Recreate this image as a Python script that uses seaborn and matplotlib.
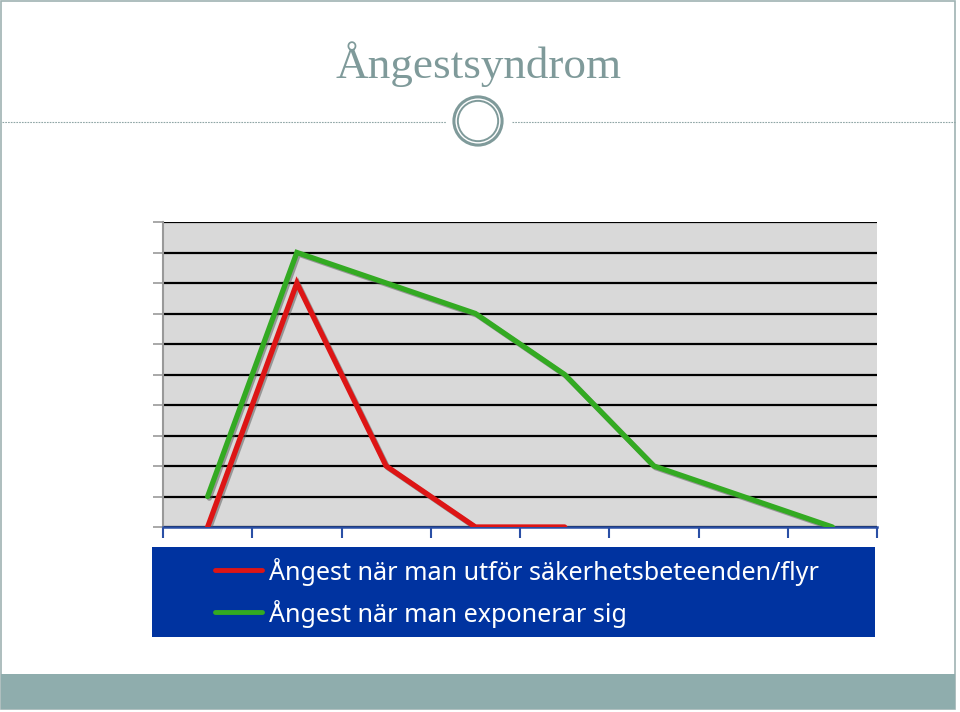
import matplotlib
matplotlib.use("Agg")
import matplotlib.pyplot as plt
import matplotlib.patheffects as pe
from matplotlib.patches import Rectangle, Circle
from matplotlib.lines import Line2D
import seaborn as sns
import pandas as pd

# ---- data ----
steps = [0, 1, 2, 3, 4, 5, 6, 7]
flight_steps = [0, 1, 2, 3, 4]
flight_values = [0, 8, 2, 0, 0]
exposure_values = [1, 9, 8, 7, 5, 2, 1, 0]
label_flight = "Ångest när man utför säkerhetsbeteenden/flyr"
label_exposure = "Ångest när man exponerar sig"
title = "Ångestsyndrom"

sns.set_theme(style="white")
plt.rcParams['font.family'] = ['DejaVu Sans']

W, H = 960, 712
fig = plt.figure(figsize=(W / 100, H / 100), dpi=100)

def fx(x):
    return x / W

def fy(y):
    return 1 - y / H

# slide frame
fig.patches.append(Rectangle((fx(1), fy(709)), fx(954), (708) / H, transform=fig.transFigure,
                             fill=False, edgecolor="#9FB3B3", lw=1.2))
fig.patches.append(Rectangle((fx(1), fy(709)), fx(954), (709 - 674) / H, transform=fig.transFigure,
                             facecolor="#8FADAD", edgecolor="none"))
# title
fig.text(fx(479), fy(78), title, ha="center", va="baseline", fontsize=32.5,
         family=["Liberation Serif", "DejaVu Serif"], color="#7F9A9A")
# dashed rule with ring
fig.lines.append(Line2D([fx(2), fx(446)], [fy(122), fy(122)], transform=fig.transFigure,
                        color="#8FA5A5", lw=0.8, ls=(0, (1.5, 1))))
fig.lines.append(Line2D([fx(512), fx(955)], [fy(122), fy(122)], transform=fig.transFigure,
                        color="#8FA5A5", lw=0.8, ls=(0, (1.5, 1))))
ring_ax = fig.add_axes([fx(450), fy(149), 56 / W, 56 / H])
ring_ax.set_xlim(-1, 1); ring_ax.set_ylim(-1, 1); ring_ax.set_aspect("equal")
ring_ax.axis("off")
ring_ax.add_patch(Circle((0, 0), 0.86, fill=False, edgecolor="#7F9A9A", lw=2.2))
ring_ax.add_patch(Circle((0, 0), 0.72, fill=False, edgecolor="#7F9A9A", lw=1.4))

# chart axes
ax = fig.add_axes([fx(163), fy(527), 714 / W, 305 / H])
ax.set_facecolor("#D9D9D9")

df_flight = pd.DataFrame({"step": flight_steps, "value": flight_values})
df_exp = pd.DataFrame({"step": steps, "value": exposure_values})

shadow = [pe.SimpleLineShadow(offset=(1.2, -1.2), shadow_color="#555555", alpha=0.5), pe.Normal()]
sns.lineplot(data=df_exp, x="step", y="value", ax=ax, color="#33AA22", lw=3.8,
             path_effects=shadow, zorder=4, solid_joinstyle="miter")
sns.lineplot(data=df_flight, x="step", y="value", ax=ax, color="#DD1515", lw=3.8,
             path_effects=shadow, zorder=5, solid_joinstyle="miter")

ax.set_xlim(-0.5, len(steps) - 0.5)
ax.set_ylim(0, 10)
ax.set_xlabel("")
ax.set_ylabel("")
ax.set_yticks(range(0, 11))
ax.yaxis.grid(True, color="black", lw=1.6)
ax.set_axisbelow(True)
ax.set_xticks([s - 0.5 for s in steps] + [len(steps) - 0.5])
ax.set_xticklabels([])
ax.set_yticklabels([])
ax.tick_params(axis="x", direction="out", length=8, width=1.5, color="#2A4FA5", bottom=True)
ax.tick_params(axis="y", direction="out", length=7, width=1.2, color="#999999", left=True)
for s in ["top", "right"]:
    ax.spines[s].set_visible(False)
ax.spines["left"].set_color("#999999")
ax.spines["left"].set_linewidth(1.5)
ax.spines["bottom"].set_color("#2A4FA5")
ax.spines["bottom"].set_linewidth(1.8)
ax.spines["bottom"].set_zorder(3)

# legend box
fig.patches.append(Rectangle((fx(152), fy(637)), 723 / W, 90 / H, transform=fig.transFigure,
                             facecolor="#0033A0", edgecolor="none"))
texts = []
for yy, col, lab in [(570, "#DD1515", label_flight), (612, "#33AA22", label_exposure)]:
    fig.lines.append(Line2D([fx(215), fx(262)], [fy(yy), fy(yy)], transform=fig.transFigure,
                            color=col, lw=3.5))
    t = fig.text(fx(269), fy(yy + 10), lab, ha="left", va="baseline", fontsize=18.5,
                 family=["Noto Sans", "DejaVu Sans"], fontstretch="semi-condensed",
                 color="white")
    texts.append(t)

# fit the first legend line to the reference width (~549 px)
renderer = fig.canvas.get_renderer()
w = texts[0].get_window_extent(renderer).width
scale = 549 / w
for t in texts:
    t.set_fontsize(18.5 * scale)

fig.savefig("out.png", dpi=100)
